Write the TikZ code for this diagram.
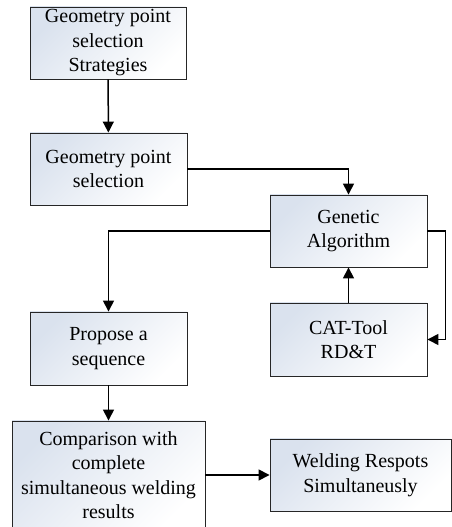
\documentclass[tikz,border=0pt]{standalone}
\usepackage{fontspec}
\setmainfont{Liberation Serif}
\usetikzlibrary{arrows.meta}
\definecolor{boxtop}{RGB}{218,226,238}

\tikzset{
  stepbox/.style={draw=black!85, line width=0.9pt, top color=boxtop, bottom color=white,
    shading angle=45, align=center, inner sep=2pt,
    font=\fontsize{20}{24.5}\selectfont},
  link/.style={line width=1.5pt, -{Triangle[length=11pt,width=11pt]}}
}

\begin{document}
\begin{tikzpicture}[x=1pt, y=1pt]
\useasboundingbox (0,0) rectangle (452,527);
\node[stepbox, minimum width=156pt, minimum height=72pt] (strat) at (108,484) {Geometry point\\selection\\Strategies};
\node[stepbox, minimum width=157pt, minimum height=72pt] (sel) at (108.5,358) {Geometry point\\selection};
\node[stepbox, minimum width=157pt, minimum height=72pt] (ga) at (348.5,296) {Genetic\\Algorithm};
\node[stepbox, minimum width=157pt, minimum height=73pt] (cat) at (348.5,187.5) {CAT-Tool\\RD\&T};
\node[stepbox, minimum width=157pt, minimum height=73pt] (prop) at (108.5,178.5) {Propose a\\sequence};
\node[stepbox, minimum width=193pt, minimum height=108pt] (comp) at (108.5,52) {Comparison with\\complete\\simultaneous welding\\results};
\node[stepbox, minimum width=181pt, minimum height=72pt] (weld) at (360.5,52) {Welding Respots\\Simultaneusly};
\draw[link] (strat) -- (sel);
\draw[link] (sel.east) -| (ga.north);
\draw[link] (ga.west) -| (prop.north);
\draw[link] (ga.east) -- ++(18,0) |- (cat.east);
\draw[link] (cat) -- (ga);
\draw[link] (prop) -- (comp);
\draw[link] (comp) -- (weld);
\end{tikzpicture}
\end{document}
